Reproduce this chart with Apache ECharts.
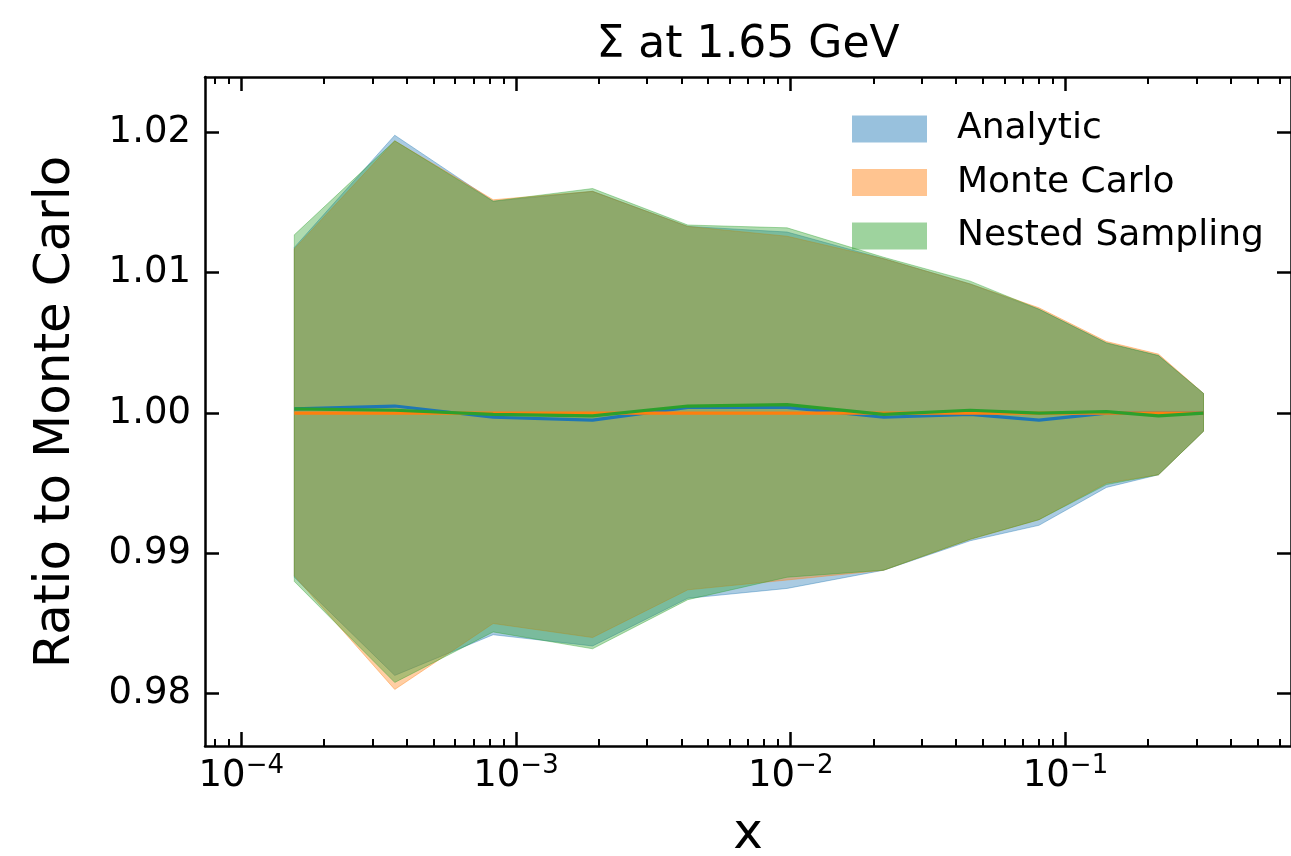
<!DOCTYPE html>
<html><head><meta charset="utf-8">
<script src="https://cdn.jsdelivr.net/npm/echarts@6/dist/echarts.min.js"></script>
<style>html,body{margin:0;padding:0;background:#fff}#c{width:1291px;height:856px}</style>
</head><body><div id="c"></div>
<script>
// ---- data ----
const xValues = [1.56e-4, 3.62e-4, 8.26e-4, 1.90e-3, 4.22e-3, 9.70e-3, 2.18e-2, 4.50e-2, 8.01e-2, 0.141, 0.218, 0.318];

const analyticUpper   = [1.0118, 1.0198, 1.0151, 1.0158, 1.0133, 1.0129, 1.0110, 1.0092, 1.0074, 1.0050, 1.0041, 1.0014];
const analyticLower   = [0.9883, 0.9813, 0.9842, 0.9834, 0.9868, 0.9875, 0.9888, 0.9909, 0.9920, 0.9947, 0.9956, 0.9987];
const analyticCentral = [1.0003, 1.0005, 0.9997, 0.9995, 1.0004, 1.0004, 0.9997, 0.9999, 0.9995, 1.0000, 1.0000, 1.0000];

const mcUpper   = [1.0117, 1.0194, 1.0152, 1.0158, 1.0133, 1.0126, 1.0110, 1.0092, 1.0075, 1.0051, 1.0042, 1.0014];
const mcLower   = [0.9884, 0.9803, 0.9850, 0.9840, 0.9874, 0.9881, 0.9888, 0.9910, 0.9924, 0.9950, 0.9956, 0.9987];
const mcCentral = [1.0000, 1.0000, 1.0000, 1.0000, 1.0000, 1.0000, 1.0000, 1.0000, 1.0000, 1.0000, 1.0000, 1.0000];

const nsUpper   = [1.0127, 1.0194, 1.0151, 1.0160, 1.0134, 1.0132, 1.0111, 1.0094, 1.0074, 1.0050, 1.0041, 1.0014];
const nsLower   = [0.9880, 0.9808, 0.9844, 0.9832, 0.9867, 0.9883, 0.9888, 0.9910, 0.9924, 0.9949, 0.9956, 0.9987];
const nsCentral = [1.0003, 1.0002, 0.9999, 0.9998, 1.0005, 1.0006, 0.9999, 1.0002, 1.0000, 1.0001, 0.9998, 1.0000];

const seriesNames = ['Analytic', 'Monte Carlo', 'Nested Sampling'];
const xMajorTicks = [1e-4, 1e-3, 1e-2, 1e-1];
const xMinorTicks = [8e-5, 9e-5,
  2e-4, 3e-4, 4e-4, 5e-4, 6e-4, 7e-4, 8e-4, 9e-4,
  2e-3, 3e-3, 4e-3, 5e-3, 6e-3, 7e-3, 8e-3, 9e-3,
  2e-2, 3e-2, 4e-2, 5e-2, 6e-2, 7e-2, 8e-2, 9e-2,
  0.2, 0.3, 0.4, 0.5, 0.6];
const yTicks = [0.98, 0.99, 1.00, 1.01, 1.02];
const titleText = 'Σ at 1.65 GeV';
const xLabel = 'x';
const yLabel = 'Ratio to Monte Carlo';

// ---- chart ----
const X_MIN = 7.38e-5, X_MAX = 0.662, Y_MIN = 0.97627, Y_MAX = 1.02395;
const FONT = 'DejaVu Sans';
const ALPHA = 0.38, LEGEND_ALPHA = 0.46;
const colors = ['#1f77b4', '#ff7f0e', '#2ca02c'];
function rgba(hex, a) {
  const n = parseInt(hex.slice(1), 16);
  return 'rgba(' + (n >> 16) + ',' + ((n >> 8) & 255) + ',' + (n & 255) + ',' + a + ')';
}

function band(name, lower, upper, color) {
  const fill = rgba(color, ALPHA);
  return {
    type: 'custom', name: name, coordinateSystem: 'cartesian2d',
    xAxisIndex: 0, yAxisIndex: 0, z: 2,
    itemStyle: { color: fill },
    data: xValues.map((x, i) => [x, lower[i], upper[i]]),
    encode: { x: 0, y: [1, 2] },
    renderItem: function (params, api) {
      if (params.dataIndex !== 0) return null;
      const pts = [];
      for (let i = 0; i < xValues.length; i++) pts.push(api.coord([xValues[i], upper[i]]));
      for (let i = xValues.length - 1; i >= 0; i--) pts.push(api.coord([xValues[i], lower[i]]));
      return { type: 'polygon', shape: { points: pts },
        style: { fill: fill, stroke: fill, lineWidth: 1 } };
    }
  };
}
function central(name, vals, color) {
  return {
    type: 'line', name: name, xAxisIndex: 0, yAxisIndex: 0, z: 3,
    showSymbol: false, symbol: 'none',
    data: xValues.map((x, i) => [x, vals[i]]),
    lineStyle: { color: color, width: 3.2 }, itemStyle: { color: color }
  };
}

const tickStyle = { color: '#000', width: 2.5 };
const minorStyle = { color: '#000', width: 2 };
function xTickAxis(grid, pos, minor) {
  return {
    type: 'log', logBase: 10, min: X_MIN, max: X_MAX, position: pos, gridIndex: grid,
    axisLine: { show: !minor, onZero: false, lineStyle: { color: '#000', width: 2.5 } },
    axisTick: { show: true, inside: true, length: minor ? 7 : 14,
      lineStyle: minor ? minorStyle : tickStyle,
      customValues: minor ? xMinorTicks : xMajorTicks },
    minorTick: { show: false },
    splitLine: { show: false },
    axisLabel: { show: false }
  };
}
function xLabelAxis(grid) {
  return {
    type: 'log', logBase: 10, min: X_MIN, max: X_MAX, position: 'bottom', gridIndex: grid,
    axisLine: { show: false, onZero: false },
    axisTick: { show: false },
    minorTick: { show: false },
    splitLine: { show: false },
    axisLabel: {
      show: true, customValues: xMajorTicks, margin: 7, color: '#000',
      formatter: v => '{b|10}{s|\u2212' + (-Math.round(Math.log10(v))) + '}',
      rich: {
        b: { fontSize: 37, fontFamily: FONT, color: '#000', lineHeight: 37, padding: [10, 0, 0, 0] },
        s: { fontSize: 26, fontFamily: FONT, color: '#000', lineHeight: 26, verticalAlign: 'top' }
      }
    }
  };
}
function yAxisDef(grid, pos, labels) {
  return {
    type: 'value', min: Y_MIN, max: Y_MAX, position: pos, gridIndex: grid,
    axisLine: { show: true, onZero: false, lineStyle: { color: '#000', width: 2.5 } },
    axisTick: { show: true, inside: true, length: 14, lineStyle: tickStyle, customValues: yTicks },
    splitLine: { show: false },
    axisLabel: labels ? {
      show: true, customValues: yTicks, margin: 14, color: '#000', fontSize: 37, fontFamily: FONT,
      formatter: v => v.toFixed(2)
    } : { show: false }
  };
}
function hiddenY(grid) {
  return { type: 'value', min: Y_MIN, max: Y_MAX, gridIndex: grid, show: false,
    axisLine: { show: false }, axisTick: { show: false }, axisLabel: { show: false }, splitLine: { show: false } };
}

const chart = echarts.init(document.getElementById('c'), null, { renderer: 'canvas' });
chart.setOption({
  animation: false,
  backgroundColor: '#fff',
  grid: [
    { left: 205, top: 77, right: -7, bottom: 110, containLabel: false },  // main
    { left: 205, top: 77, right: -7, bottom: 110, containLabel: false },  // minor ticks
    { left: 205, top: 77, right: -7, bottom: 110, containLabel: false }   // x tick labels
  ],
  xAxis: [xTickAxis(0, 'bottom', false), xTickAxis(0, 'top', false),
          xTickAxis(1, 'bottom', true), xTickAxis(1, 'top', true),
          xLabelAxis(2)],
  yAxis: [yAxisDef(0, 'left', true), yAxisDef(0, 'right', false), hiddenY(1), hiddenY(2)],
  legend: {
    orient: 'vertical', left: 852, top: 111, padding: 0,
    itemWidth: 75, itemHeight: 27, itemGap: 17.5, icon: 'rect',
    data: seriesNames.map((n, i) => ({ name: n, itemStyle: { color: rgba(colors[i], LEGEND_ALPHA) } })),
    textStyle: { fontSize: 36, fontFamily: FONT, color: '#000', padding: [0, 0, 0, 25] }
  },
  graphic: [
    { type: 'text', x: 748, y: 46, style: { text: titleText, fontSize: 44, fontFamily: FONT, fill: '#000', align: 'center', verticalAlign: 'middle' } },
    { type: 'text', x: 748, y: 835, style: { text: xLabel, fontSize: 50, fontFamily: FONT, fill: '#000', align: 'center', verticalAlign: 'middle' } },
    { type: 'text', x: 56, y: 412, rotation: Math.PI / 2, style: { text: yLabel, fontSize: 50, fontFamily: FONT, fill: '#000', align: 'center', verticalAlign: 'middle' } }
  ],
  series: [
    band(seriesNames[0], analyticLower, analyticUpper, colors[0]),
    band(seriesNames[1], mcLower, mcUpper, colors[1]),
    band(seriesNames[2], nsLower, nsUpper, colors[2]),
    central('Analytic central', analyticCentral, colors[0]),
    central('Monte Carlo central', mcCentral, colors[1]),
    central('Nested Sampling central', nsCentral, colors[2])
  ]
});
</script>
</body></html>
